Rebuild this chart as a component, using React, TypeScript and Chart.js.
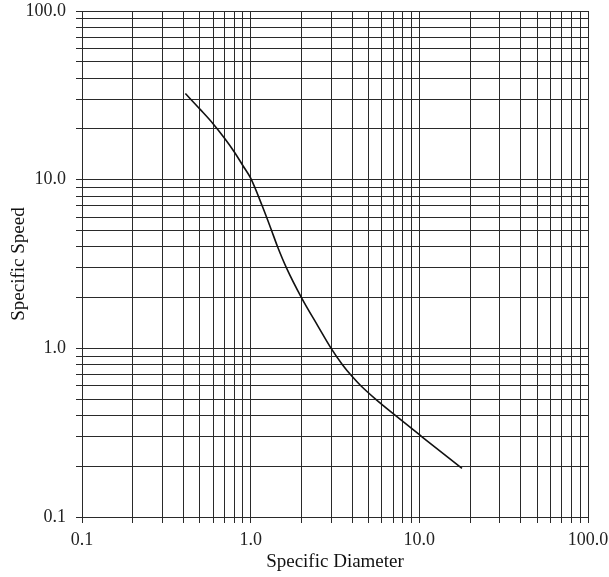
import { useEffect, useRef } from 'react';
import { Chart, registerables } from 'chart.js';

Chart.register(...registerables);

// Specific diameter (x) vs specific speed (y) along the design curve
const specificDiameter = [0.41, 0.5, 0.6, 0.7, 0.8, 0.9, 1.0, 1.17, 1.33, 1.44, 1.63, 2.0, 2.5, 3.0, 3.5, 4.0, 4.5, 5.5, 7.3, 10.5, 17.9];
const specificSpeed = [32.4, 26.2, 21.4, 17.6, 14.6, 12.1, 10.2, 7.0, 5.0, 4.03, 3.0, 2.0, 1.36, 1.0, 0.8, 0.68, 0.6, 0.5, 0.396, 0.296, 0.194];

// Logarithmic grid: every 1..9 step in each decade, labelled only at decades
const decades = [0.1, 1, 10];
const decadeSteps = [1, 2, 3, 4, 5, 6, 7, 8, 9];
const axisMin = 0.1;
const axisMax = 100;
const decadeValues = [0.1, 1, 10, 100];
const decadeLabels = ['0.1', '1.0', '10.0', '100.0'];

const gridValues: number[] = [
  ...decades.flatMap((d) => decadeSteps.map((s) => d * s)),
  axisMax,
];

const labelFor = (v: number): string => {
  const i = decadeValues.findIndex((d) => Math.abs(v - d) < d * 1e-6);
  return i >= 0 ? decadeLabels[i] : '';
};

const FONT = "'Liberation Serif', 'Times New Roman', serif";
const LINE = '#2a2a2a';

export default function App() {
  const ref = useRef<HTMLCanvasElement | null>(null);

  useEffect(() => {
    if (!ref.current) return;
    const setTicks = (scale: any) => {
      scale.ticks = gridValues.map((value) => ({ value }));
    };
    const tickOptions = (padding: number) => ({
      autoSkip: false,
      maxRotation: 0,
      padding,
      color: '#222',
      font: { family: FONT, size: 18 },
      callback: (value: any) => labelFor(Number(value)),
    });
    const axisCommon = (title: string, titlePadding: any) => ({
      type: 'logarithmic' as const,
      min: axisMin,
      max: axisMax,
      afterBuildTicks: setTicks,
      grid: {
        color: LINE,
        lineWidth: 1,
        tickColor: LINE,
        tickLength: 6,
        drawTicks: true,
      },
      border: { color: LINE, width: 1 },
      title: {
        display: true,
        text: title,
        color: '#111',
        font: { family: FONT, size: 19 },
        padding: titlePadding,
      },
    });

    const chart = new Chart(ref.current, {
      type: 'line',
      data: {
        datasets: [
          {
            data: specificDiameter.map((x, i) => ({ x, y: specificSpeed[i] })),
            borderColor: '#111',
            borderWidth: 1.6,
            pointRadius: 0,
            fill: false,
            cubicInterpolationMode: 'monotone',
          },
        ],
      },
      options: {
        responsive: false,
        animation: false,
        layout: { padding: { top: 11, right: 21, bottom: 0, left: 0 } },
        plugins: { legend: { display: false }, tooltip: { enabled: false } },
        scales: {
          x: {
            ...axisCommon('Specific Diameter', { top: 0, bottom: 4 }),
            position: 'bottom',
            ticks: tickOptions(6),
            afterFit: (scale: any) => {
              scale.height = 60;
              scale.paddingLeft = 0;
              scale.paddingRight = 0;
            },
          },
          y: {
            ...axisCommon('Specific Speed', { top: 8, bottom: 0 }),
            position: 'left',
            ticks: tickOptions(10),
            afterFit: (scale: any) => {
              scale.width = 82;
              scale.paddingTop = 0;
              scale.paddingBottom = 0;
            },
          },
        },
      },
    });
    return () => chart.destroy();
  }, []);

  return (
    <div style={{ position: 'absolute', left: 0, top: 0, width: 609, height: 577, background: '#fff' }}>
      <canvas ref={ref} width={609} height={577} style={{ display: 'block' }} />
    </div>
  );
}
